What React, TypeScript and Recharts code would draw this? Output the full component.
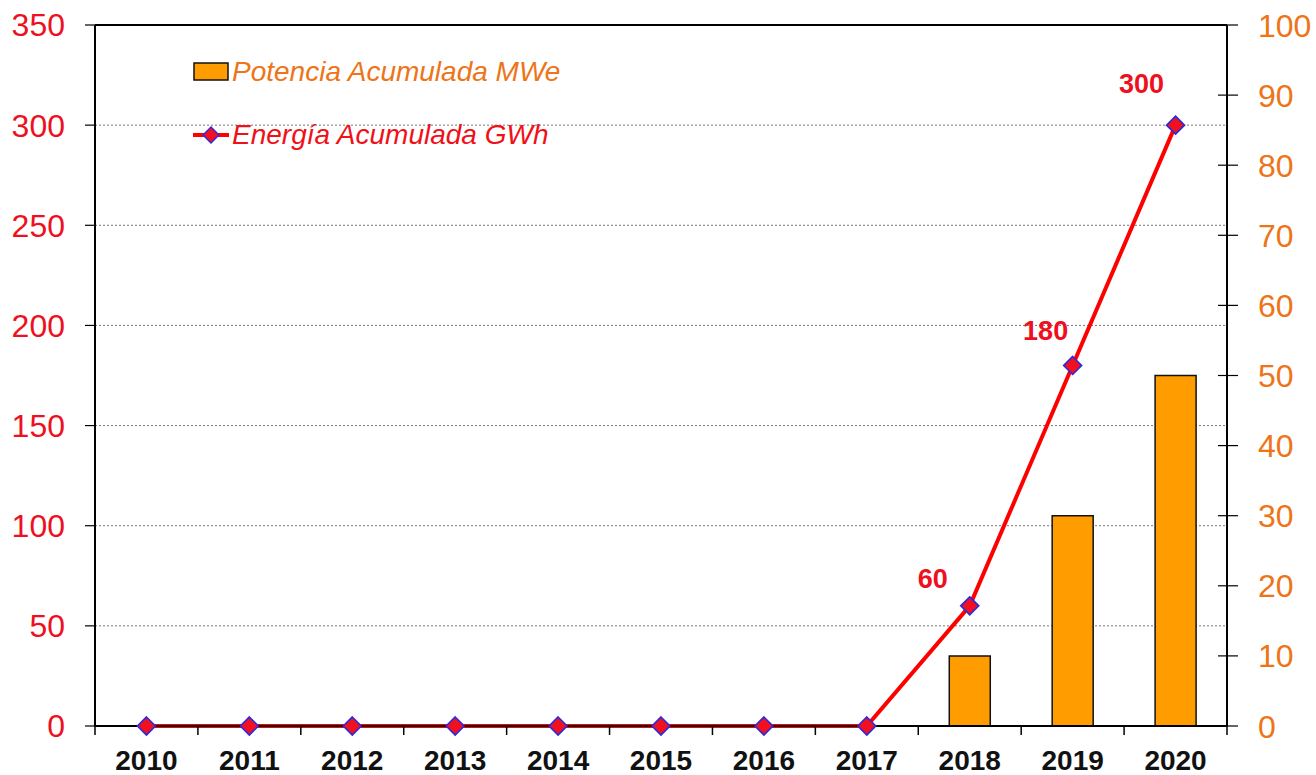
import {
  ComposedChart,
  Bar,
  Line,
  XAxis,
  YAxis,
  CartesianGrid,
  ReferenceLine,
  LabelList,
} from "recharts";

const YEARS = ["2010", "2011", "2012", "2013", "2014", "2015", "2016", "2017", "2018", "2019", "2020"];
const POWER_MWE = [0, 0, 0, 0, 0, 0, 0, 0, 10, 30, 50];
const ENERGY_GWH = [0, 0, 0, 0, 0, 0, 0, 0, 60, 180, 300];
const LEFT_TICKS = [0, 50, 100, 150, 200, 250, 300, 350];
const RIGHT_TICKS = [0, 10, 20, 30, 40, 50, 60, 70, 80, 90, 100];

const POWER_NAME = "Potencia Acumulada MWe";
const ENERGY_NAME = "Energía Acumulada GWh";

const data = YEARS.map((year, i) => ({ year, power: POWER_MWE[i], energy: ENERGY_GWH[i] }));

// layout
const W = 1316;
const H = 775;
const LEFT_W = 95;
const RIGHT_W = 89;
const TOP = 25;
const X_H = 49;
const BAND = (W - LEFT_W - RIGHT_W) / YEARS.length;

const FONT = "'Liberation Sans', Arial, sans-serif";
const RED = "#ee1020";
const ORANGE = "#ee7418";
const BAR_FILL = "#ff9c00";

// hand-tuned label nudges, as in the original
const BAR_NUDGE: Record<string, [number, number]> = {
  "2018": [45, -6],
  "2019": [29, -19],
  "2020": [-2, -29],
};
const LINE_NUDGE: Record<string, [number, number]> = {
  "2018": [-37, -27],
  "2019": [-27, -34],
  "2020": [-34, -41],
};

function XTick(props: any) {
  const { x, y, payload, index } = props;
  const left = x - BAND / 2;
  return (
    <g>
      <line x1={left} x2={left} y1={y} y2={y + 9} stroke="#000" strokeWidth={1.5} />
      {index === YEARS.length - 1 && (
        <line x1={x + BAND / 2} x2={x + BAND / 2} y1={y} y2={y + 9} stroke="#000" strokeWidth={1.5} />
      )}
      <text x={x} y={y + 44} textAnchor="middle" fontFamily={FONT} fontWeight="bold" fontSize={28} fill="#111">
        {payload.value}
      </text>
    </g>
  );
}

function RightTick(props: any) {
  const { x, y, payload } = props;
  return (
    <g>
      <line x1={x - 9} x2={x + 11} y1={y} y2={y} stroke="#000" strokeWidth={1.2} />
      <text x={x + 31} y={y} dy="0.36em" textAnchor="start" fontFamily={FONT} fontSize={32} fill={ORANGE}>
        {payload.value}
      </text>
    </g>
  );
}

function Diamond(props: any) {
  const { cx, cy, index } = props;
  const r = 9;
  return (
    <path
      key={`d-${index}`}
      d={`M${cx},${cy - r} L${cx + r},${cy} L${cx},${cy + r} L${cx - r},${cy} Z`}
      fill="#f01020"
      stroke="#2a2ae0"
      strokeWidth={1.6}
    />
  );
}

function BarLabel(props: any) {
  const { x, y, width, value, index } = props;
  const nudge = BAR_NUDGE[YEARS[index]];
  if (!value || !nudge) return null;
  return (
    <text
      x={x + width / 2 + nudge[0]}
      y={y + nudge[1]}
      dominantBaseline="central"
      textAnchor="middle"
      fontFamily={FONT}
      fontWeight="bold"
      fontSize={27}
      fill={ORANGE}
    >
      {value}
    </text>
  );
}

function LineLabel(props: any) {
  const { x, y, value, index } = props;
  const nudge = LINE_NUDGE[YEARS[index]];
  if (!value || !nudge) return null;
  return (
    <text
      x={x + nudge[0]}
      y={y + nudge[1]}
      dominantBaseline="central"
      textAnchor="middle"
      fontFamily={FONT}
      fontWeight="bold"
      fontSize={27}
      fill={RED}
    >
      {value}
    </text>
  );
}

function LegendBox() {
  const text = { fontFamily: FONT, fontStyle: "italic", fontSize: 28, lineHeight: "34px" } as const;
  return (
    <div style={{ position: "absolute", top: 55, left: 193, display: "flex", flexDirection: "column", gap: 29 }}>
      <div style={{ display: "flex", alignItems: "center", height: 34 }}>
        <svg width={39} height={34}>
          <rect x={1} y={8} width={34} height={17} fill={BAR_FILL} stroke="#111" strokeWidth={1.5} />
        </svg>
        <span style={{ ...text, color: ORANGE }}>{POWER_NAME}</span>
      </div>
      <div style={{ display: "flex", alignItems: "center", height: 34 }}>
        <svg width={39} height={34}>
          <line x1={0} x2={36} y1={17} y2={17} stroke="#ff0000" strokeWidth={4} />
          <path d="M18,9 L26,17 L18,25 L10,17 Z" fill="#f01020" stroke="#2a2ae0" strokeWidth={1.4} />
        </svg>
        <span style={{ ...text, color: "#f01018" }}>{ENERGY_NAME}</span>
      </div>
    </div>
  );
}

export default function App() {
  return (
    <div style={{ position: "absolute", left: 0, top: 0, width: W, height: H, background: "#fff" }}>
      <ComposedChart width={W} height={H} data={data} margin={{ top: TOP, right: 0, bottom: 0, left: 0 }}>
        <CartesianGrid yAxisId="left" vertical={false} stroke="#777" strokeDasharray="2 2" />
        <XAxis
          dataKey="year"
          height={X_H}
          axisLine={{ stroke: "#000", strokeWidth: 2 }}
          tickLine={false}
          tickSize={0}
          tickMargin={0}
          tick={<XTick />}
          interval={0}
        />
        <YAxis
          yAxisId="left"
          width={LEFT_W}
          domain={[0, 350]}
          ticks={LEFT_TICKS}
          interval={0}
          axisLine={{ stroke: "#000", strokeWidth: 2 }}
          tickLine={{ stroke: "#000", strokeWidth: 1.2 }}
          tickSize={10}
          tickMargin={20}
          tick={{ fill: RED, fontSize: 32, fontFamily: FONT }}
        />
        <YAxis
          yAxisId="right"
          orientation="right"
          width={RIGHT_W}
          domain={[0, 100]}
          ticks={RIGHT_TICKS}
          interval={0}
          axisLine={{ stroke: "#000", strokeWidth: 2 }}
          tickLine={false}
          tickSize={0}
          tickMargin={0}
          tick={<RightTick />}
        />
        <ReferenceLine yAxisId="left" y={350} stroke="#000" strokeWidth={2} />
        <Bar
          yAxisId="right"
          dataKey="power"
          name={POWER_NAME}
          barSize={41}
          fill={BAR_FILL}
          stroke="#111"
          strokeWidth={1.5}
          isAnimationActive={false}
        >
          <LabelList dataKey="power" content={<BarLabel />} />
        </Bar>
        <Line
          yAxisId="left"
          type="linear"
          dataKey="energy"
          name={ENERGY_NAME}
          stroke="#ff0000"
          strokeWidth={4}
          dot={<Diamond />}
          activeDot={false}
          isAnimationActive={false}
        >
          <LabelList dataKey="energy" content={<LineLabel />} />
        </Line>
      </ComposedChart>
      <LegendBox />
    </div>
  );
}
